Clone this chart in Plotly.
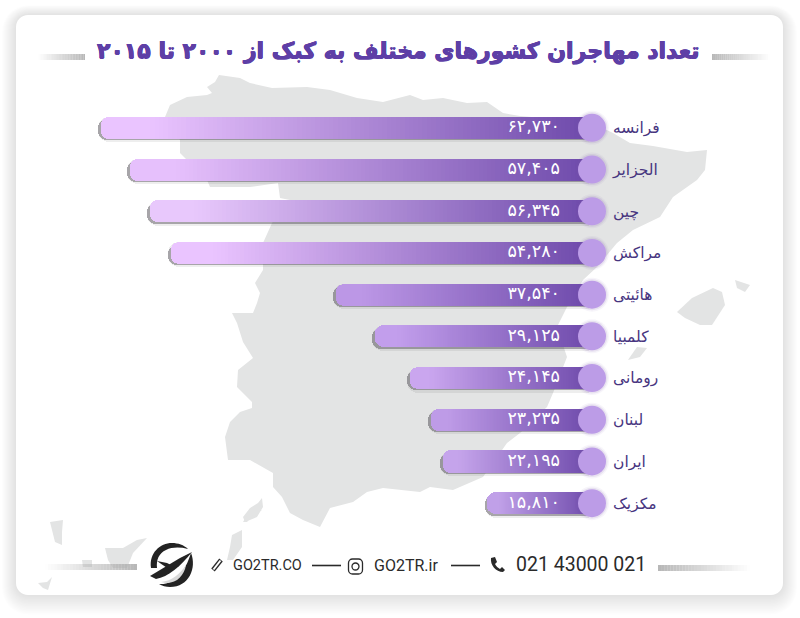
import plotly.graph_objects as go

W, H = 800, 618

countries = ['فرانسه', 'الجزایر', 'چین', 'مراکش', 'هائیتی', 'کلمبیا', 'رومانی', 'لبنان', 'ایران', 'مکزیک']
values = [62730, 57405, 56345, 54280, 37540, 29125, 24145, 23235, 22195, 15810]
# the bars in the picture are not drawn to the printed numbers, so keep their drawn length apart
bar_lengths = [62730, 59025, 56470, 53790, 32710, 27725, 23250, 20570, 19035, 13290]
tip_colors = ['#EAC4FF', '#E6C0FC', '#E8C8FC', '#EAC4FF', '#BC97E6', '#C29EEC', '#CAA6EF', '#BE9BE7', '#C5A4EB', '#C0A0E8']

title = 'تعداد مهاجران کشورهای مختلف به کبک از ۲۰۰۰ تا ۲۰۱۵'
fa_digits = str.maketrans('0123456789', '۰۱۲۳۴۵۶۷۸۹')

units_per_px = 62730 / 491
y_shift_unit = 1 / 41.7
x_lo, x_hi = -14 * units_per_px, 502 * units_per_px


def hex_rgb(c):
    return [int(c[i:i + 2], 16) for i in (1, 3, 5)]


def mix(a, b, t):
    a, b = hex_rgb(a), hex_rgb(b)
    return 'rgb(%d,%d,%d)' % tuple(a[i] + (b[i] - a[i]) * t for i in range(3))


def px_path(points, close=True):
    s = 'M ' + ' L '.join(f'{x / W:.5f},{1 - y / H:.5f}' for x, y in points)
    return s + (' Z' if close else '')


def curve_path(cmds):
    # cmds is a list of (letter, x1, y1, x2, y2, ...) in pixels
    out = []
    for c in cmds:
        nums = c[1:]
        pts = [f'{nums[i] / W:.5f},{1 - nums[i + 1] / H:.5f}' for i in range(0, len(nums), 2)]
        out.append(c[0] + ' ' + ' '.join(pts))
    return ' '.join(out)


def round_rect(x0, y0, x1, y1, r):
    k = r * 0.45
    return curve_path([
        ('M', x0 + r, y0), ('L', x1 - r, y0), ('C', x1 - k, y0, x1, y0 + k, x1, y0 + r),
        ('L', x1, y1 - r), ('C', x1, y1 - k, x1 - k, y1, x1 - r, y1),
        ('L', x0 + r, y1), ('C', x0 + k, y1, x0, y1 - k, x0, y1 - r),
        ('L', x0, y0 + r), ('C', x0, y0 + k, x0 + k, y0, x0 + r, y0),
    ]) + ' Z'


shapes = []


def add_path(path, fill=None, line=None, width=0, layer='below'):
    shapes.append(dict(type='path', xref='paper', yref='paper', path=path, layer=layer,
                       fillcolor=fill or 'rgba(0,0,0,0)',
                       line=dict(color=line or 'rgba(0,0,0,0)', width=width)))


def fade_line(x0, x1, y, h, strong_right=True):
    # gradient dash: grey at one end and nothing at the other
    n = 30
    for i in range(n):
        a = (i + 0.5) / n
        if not strong_right:
            a = 1 - a
        xa = x0 + (x1 - x0) * i / n
        xb = x0 + (x1 - x0) * (i + 1) / n
        shapes.append(dict(type='rect', xref='paper', yref='paper', layer='below',
                           x0=xa / W, x1=xb / W, y0=1 - (y + h / 2) / H, y1=1 - (y - h / 2) / H,
                           fillcolor=f'rgba(170,170,170,{a * 0.85:.3f})', line=dict(width=0)))


# card and its soft shadow
for i in range(14, 0, -1):
    add_path(round_rect(16 - i, 15 - i * 0.7, 783 + i, 595 + i * 1.4, 12 + i), fill='rgba(0,0,0,0.009)')
add_path(round_rect(16, 15, 783, 595, 12), fill='#FFFFFF')

# grey map behind the bars
MAP_GREY = '#E3E4E4'
spain = [(165, 117), (170, 105), (187, 97), (207, 95), (212, 93), (207, 87), (215, 82), (219, 75), (240, 78),
         (250, 83), (272, 88), (307, 87), (330, 90), (357, 98), (383, 102), (410, 95), (423, 100), (443, 98),
         (467, 103), (487, 102), (503, 113), (520, 116), (590, 122), (613, 133), (630, 143), (653, 146),
         (687, 152), (707, 150), (705, 170), (697, 180), (673, 197), (660, 217), (633, 230), (617, 243),
         (597, 267), (583, 280), (567, 307), (557, 327), (567, 357), (553, 393), (547, 407), (520, 433),
         (507, 443), (483, 477), (453, 490), (430, 487), (420, 492), (383, 488), (367, 492), (353, 502),
         (330, 508), (320, 527), (303, 520), (290, 513), (282, 497), (273, 487), (273, 473), (250, 460),
         (228, 460), (225, 437), (230, 422), (240, 412), (252, 408), (252, 402), (237, 387), (238, 370),
         (253, 358), (243, 342), (237, 323), (232, 313), (253, 313), (257, 303), (260, 293), (255, 283),
         (263, 270), (263, 243), (272, 223), (290, 200), (280, 198), (278, 183), (250, 187), (210, 187),
         (207, 180), (180, 153), (180, 140)]
islands = [
    [(677, 312), (692, 298), (713, 288), (722, 292), (725, 305), (712, 325), (700, 325), (685, 318)],
    [(735, 280), (750, 285), (745, 292), (737, 288)],
    [(630, 357), (637, 347), (647, 348), (640, 357), (628, 360)],
    [(243, 517), (250, 508), (258, 503), (262, 498), (263, 507), (257, 517), (245, 522)],
    [(227, 560), (230, 547), (232, 535), (242, 530), (242, 547), (233, 560)],
    [(243, 522), (250, 510), (262, 510), (253, 515), (247, 522)],
    [(105, 548), (123, 548), (137, 540), (147, 538), (133, 553), (127, 568), (113, 568), (108, 560)],
    [(50, 522), (63, 520), (62, 532), (62, 545), (55, 542), (52, 530)],
    [(82, 560), (92, 560), (92, 567), (83, 567)],
    [(38, 583), (47, 582), (52, 577), (48, 590), (43, 588)],
]
add_path(px_path(spain), fill=MAP_GREY)
for isl in islands:
    add_path(px_path(isl), fill=MAP_GREY)

# dashes next to title and footer
fade_line(38, 85, 57, 6)
fade_line(712, 770, 57, 6, strong_right=False)
fade_line(45, 137, 567, 6)
fade_line(658, 750, 568, 6, strong_right=False)

# logo
DARK = '#232323'
add_path(curve_path([('M', 151, 568), ('C', 149, 553, 160, 543, 172, 543), ('C', 178, 543, 184, 545, 188, 549),
                     ('C', 180, 547, 172, 547, 166, 550), ('C', 159, 553, 156, 560, 157, 568)]) + ' Z', fill=DARK)
add_path(curve_path([('M', 191, 553), ('C', 197, 568, 189, 587, 170, 587), ('C', 166, 587, 162, 586, 159, 584),
                     ('C', 175, 585, 185, 572, 191, 553)]) + ' Z', fill=DARK)
add_path(curve_path([('M', 156, 579), ('C', 168, 577, 181, 566, 192, 552), ('L', 180, 558), ('L', 150, 576)]) + ' Z',
         fill=DARK)
add_path(px_path([(157, 561), (167, 563), (175, 567), (170, 570)]), fill=DARK)
add_path(curve_path([('M', 161, 582), ('C', 172, 581, 180, 574, 186, 565), ('C', 184, 577, 174, 586, 161, 582)]) + ' Z',
         fill='#D9D9D9')

# footer icons
add_path(px_path([(213, 570), (221, 560)], close=False), line='#2A2A2A', width=4.5, layer='above')
add_path(px_path([(213.5, 569.5), (220.5, 560.5)], close=False), line='#FFFFFF', width=2, layer='above')
add_path(round_rect(348.5, 559, 362.5, 574, 4), line='#2A2A2A', width=1.3)
shapes.append(dict(type='circle', xref='paper', yref='paper', x0=352 / W, x1=359 / W, y0=1 - 570 / H, y1=1 - 563 / H,
                   line=dict(color='#2A2A2A', width=1.3)))
add_path(curve_path([('M', 491, 558), ('L', 495, 557), ('L', 497, 562), ('L', 495, 564), ('C', 496, 566, 498, 568, 500, 569),
                     ('L', 502, 567), ('L', 505, 570), ('L', 503, 572), ('C', 496, 572, 490, 565, 491, 558)]) + ' Z',
         fill='#2A2A2A')
for x0, x1 in [(312, 341), (451, 480)]:
    add_path(px_path([(x0, 565.5), (x1, 565.5)], close=False), line='#2A2A2A', width=1.6)


def note(text, x, y, size, color, family='DejaVu Sans', bold=False, shadow=None):
    font = dict(size=size, color=color, family=family)
    if shadow:
        font['shadow'] = shadow
    return dict(text=f'<b>{text}</b>' if bold else text, x=x / W, y=1 - y / H, xref='paper', yref='paper',
                xanchor='center', yanchor='middle', showarrow=False, font=font)


annotations = [
    note(title, 398, 51, 22, '#5E3FA6', bold=True,
         shadow='0.5px 0 0 #5E3FA6, -0.5px 0 0 #5E3FA6, 0 0.5px 0 #5E3FA6, 0 -0.5px 0 #5E3FA6'),
    note('GO2TR.CO', 267, 565, 14.5, '#2A2A2A', family='Roboto'),
    note('GO2TR.ir', 405.5, 565, 16, '#2A2A2A', family='Roboto'),
    note('021 43000 021', 581, 564, 19.5, '#2A2A2A', family='Roboto'),
]

fig = go.Figure()

# shadows sit on their own shifted axes so they do not stack with the bars
fig.add_trace(go.Bar(y=countries, x=bar_lengths, orientation='h', width=0.6, xaxis='x', yaxis='y',
                     marker=dict(color='rgba(90,85,90,0.10)', cornerradius=11, line=dict(width=0)), hoverinfo='skip'))
fig.add_trace(go.Bar(y=countries, x=bar_lengths, orientation='h', width=0.5, xaxis='x2', yaxis='y2',
                     marker=dict(color='rgba(80,75,85,0.45)', cornerradius=9, line=dict(width=0)), hoverinfo='skip'))

# gradient bar: a stack of thin pieces of each bar's length
n_seg = 110
DARK_END = '#6E4AAB'
for k in range(n_seg):
    t = min(1, k / (n_seg - 1) / 0.9)
    fig.add_trace(go.Bar(y=countries, x=[v / n_seg for v in bar_lengths], orientation='h', width=0.53,
                         xaxis='x3', yaxis='y3',
                         marker=dict(color=[mix(DARK_END, c, t) for c in tip_colors], cornerradius=8,
                                     line=dict(width=0)), hoverinfo='skip'))

for size, color in [(34, 'rgba(120,90,170,0.06)'), (31, 'rgba(120,90,170,0.12)'), (28, '#BC9CE7')]:
    fig.add_trace(go.Scatter(y=countries, x=[0] * len(countries), mode='markers', xaxis='x3', yaxis='y3',
                             marker=dict(size=size, color=color, line=dict(width=0)), cliponaxis=False,
                             hoverinfo='skip'))

fig.add_trace(go.Scatter(y=countries, x=[32 * units_per_px] * len(countries), mode='text', xaxis='x3', yaxis='y3',
                         text=[f'{v:,}'.translate(fa_digits) for v in values], textposition='middle left',
                         textfont=dict(size=17.5, color='#FFFFFF', family='DejaVu Sans'), cliponaxis=False,
                         hoverinfo='skip'))

dom_x = [90 / W, 606 / W]
dom_y = [1 - 524 / H, 1 - 107 / H]
hidden = dict(visible=False, fixedrange=True)
y_range = [9.5, -0.5]
shadow_x = [x_hi - 3 * units_per_px, x_lo - 3 * units_per_px]
shadow_y = [y_range[0] - 2 * y_shift_unit, y_range[1] - 2 * y_shift_unit]
fig.update_layout(
    width=W, height=H, margin=dict(l=0, r=0, t=0, b=0),
    paper_bgcolor='#FFFFFF', plot_bgcolor='rgba(0,0,0,0)',
    showlegend=False, barmode='stack', bargap=0,
    shapes=shapes, annotations=annotations,
    xaxis=dict(domain=dom_x, range=shadow_x, **hidden),
    yaxis=dict(domain=dom_y, range=shadow_y, type='category', **hidden),
    xaxis2=dict(domain=dom_x, overlaying='x', anchor='y2', range=shadow_x, **hidden),
    yaxis2=dict(domain=dom_y, overlaying='y', anchor='x2', type='category', range=shadow_y, **hidden),
    xaxis3=dict(domain=dom_x, overlaying='x', anchor='y3', range=[x_hi, x_lo], **hidden),
    yaxis3=dict(domain=dom_y, overlaying='y', anchor='x3', side='right', type='category', range=y_range,
                showgrid=False, zeroline=False, showline=False, ticks='', ticklabelstandoff=6,
                tickfont=dict(size=15.5, color='#47357F', family='DejaVu Sans'), fixedrange=True),
)

fig.write_html("out.html", post_script="document.body.style.margin='0';", config=dict(displayModeBar=False))
